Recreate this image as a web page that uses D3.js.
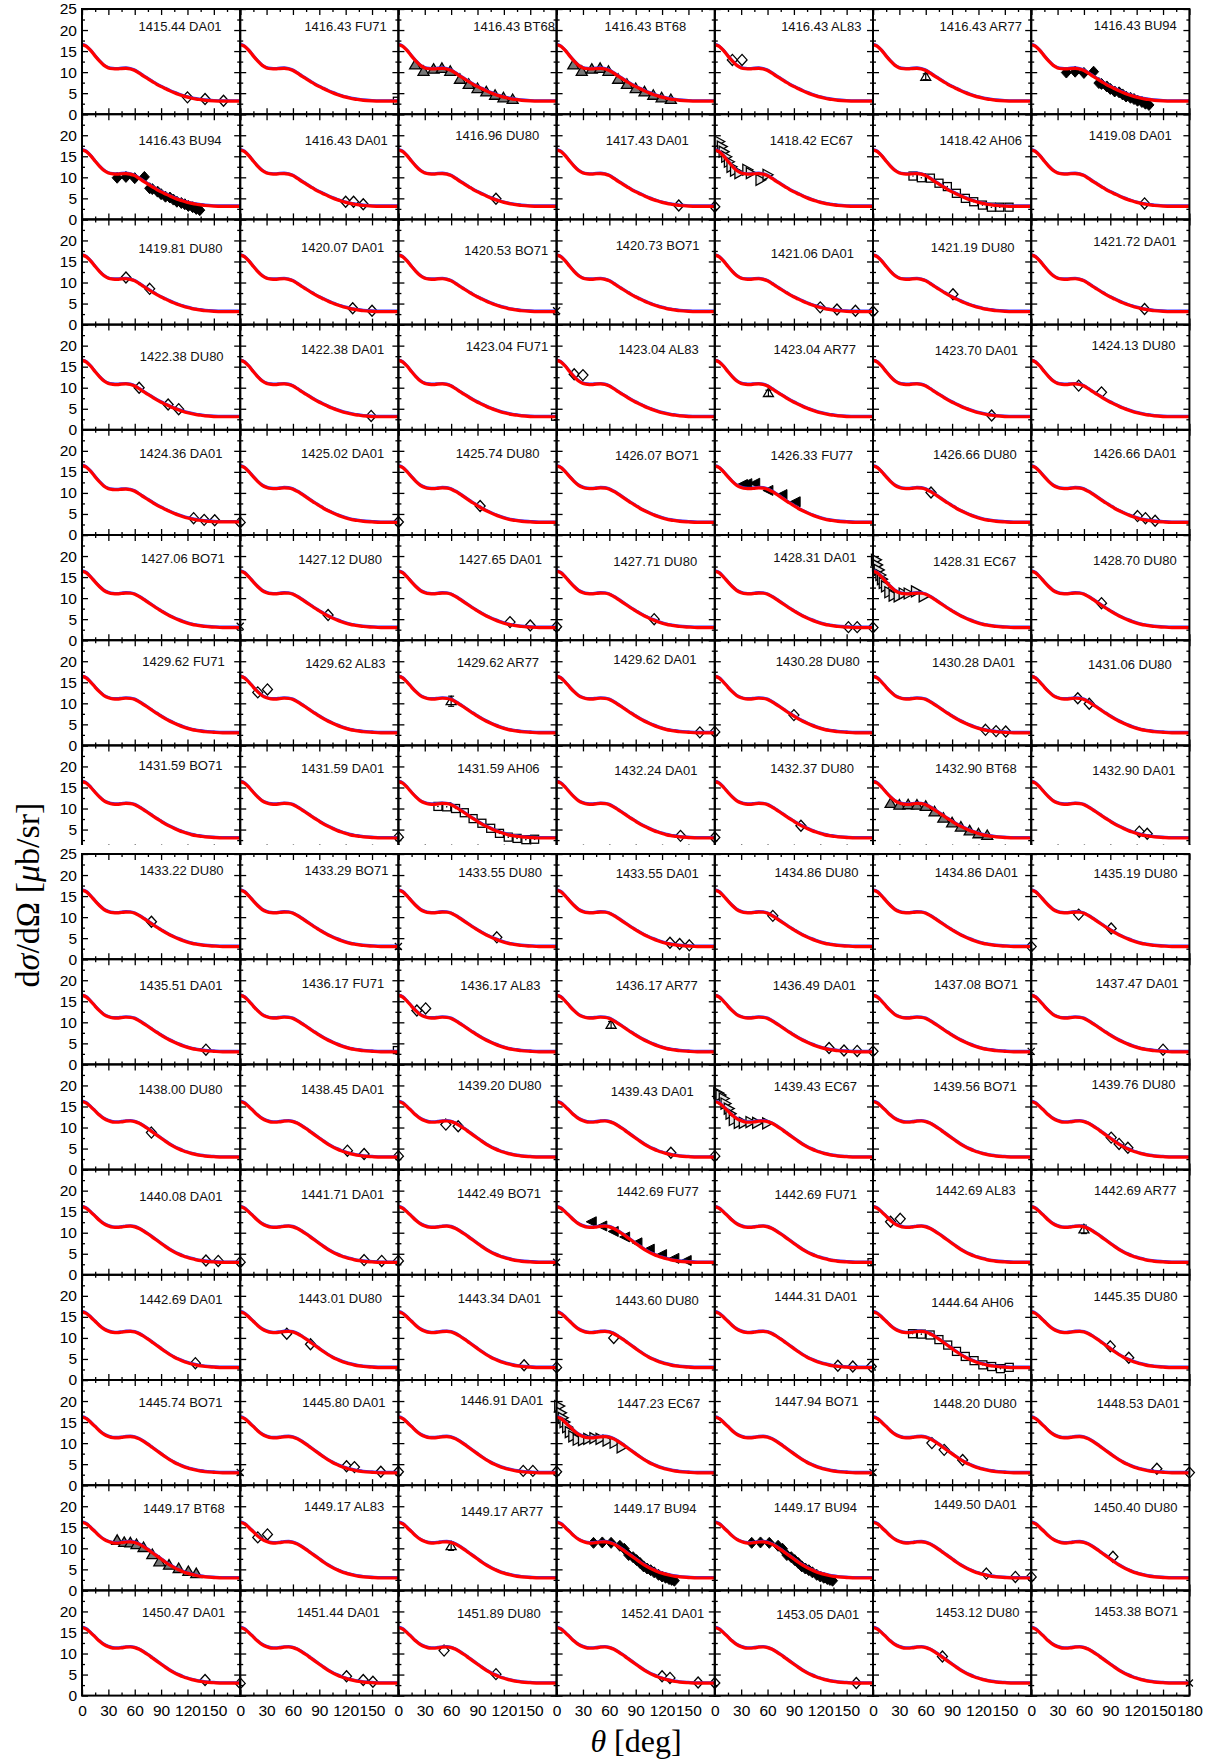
<!DOCTYPE html>
<html>
<head>
<meta charset="utf-8">
<script src="https://cdn.jsdelivr.net/npm/d3@7"></script>
<style>
  body { margin: 0; background: #fff; }
  svg { display: block; }
</style>
</head>
<body>
<svg id="chart" width="1215" height="1762"></svg>
<script>
// ---- model curves dσ/dΩ(θ) for three energy ranges ----
const curveLow = [[0,16.5],[5,16.1],[10,15.1],[15,13.8],[20,12.6],[25,11.6],[30,11.0],[35,10.8],[40,10.75],[45,10.85],[50,10.9],[55,10.75],[60,10.4],[65,9.75],[70,9.05],[75,8.4],[80,7.75],[85,7.1],[90,6.55],[95,6.05],[100,5.55],[105,5.1],[110,4.7],[115,4.35],[120,4.05],[125,3.8],[130,3.6],[135,3.45],[140,3.3],[150,3.15],[160,3.1],[170,3.1],[180,3.1]];
const curveMid = [[0,16.4],[5,16.0],[10,15.0],[15,13.8],[20,12.7],[25,11.8],[30,11.3],[35,11.05],[40,11.0],[45,11.1],[50,11.2],[55,11.15],[60,10.9],[65,10.35],[70,9.7],[75,9.0],[80,8.3],[85,7.6],[90,6.95],[95,6.3],[100,5.75],[105,5.25],[110,4.8],[115,4.4],[120,4.05],[125,3.75],[130,3.55],[135,3.4],[140,3.25],[150,3.1],[160,3.0],[170,3.0],[180,3.0]];
const curveHigh = [[0,16.2],[5,15.8],[10,14.9],[15,13.9],[20,12.9],[25,12.1],[30,11.6],[35,11.3],[40,11.25],[45,11.35],[50,11.5],[55,11.55],[60,11.4],[65,11.0],[70,10.4],[75,9.7],[80,8.95],[85,8.2],[90,7.45],[95,6.7],[100,6.0],[105,5.4],[110,4.9],[115,4.45],[120,4.1],[125,3.8],[130,3.55],[135,3.35],[140,3.2],[150,3.05],[160,2.95],[170,2.95],[180,2.95]];

// ---- measured angular distributions that appear in several panels ----
const bt68A = [[19,11.7],[28.6,10.2],[40,10.7],[49.5,10.9],[59,10.2],[70,8.3],[80,7.1],[90,6.1],[100,5.3],[110,4.5],[119.5,3.9],[130,3.5]];
const bt68B = [[20,11.2],[30,10.8],[40,10.9],[50,10.8],[60,10.5],[70,9.2],[80,7.7],[90,6.6],[100,5.6],[110,4.7],[120,4.0],[130,3.6]];
const bt68C = [[40,11.9],[48,11.4],[55,11.3],[62,10.9],[70,10.2],[80,8.5],[88,6.8],[99,6.0],[110,5.2],[121,4.5],[130,4.0]];
const bu94A = [[40,9.9],[50,10.1],[60,9.8],[71,10.1],[77,7.4],[80,7.2],[86,6.6],[90,6.0],[95,5.4],[100,5.2],[104,4.7],[108,4.2],[113,3.9],[117,3.6],[121,3.2],[126,2.9],[130,2.5],[134,2.2]];
const bu94B = [[42,11.3],[52,11.4],[62,11.3],[72,10.6],[77,9.9],[82,8.4],[87,7.9],[91,7.2],[95,6.5],[99,5.7],[103,5.2],[107,4.8],[111,4.3],[116,3.7],[120,3.3],[124,3.0],[128,2.7],[131,2.5],[134,2.3]];
const ec67A = [[5,18.5],[8,17.3],[10,16.1],[13,14.9],[16,13.7],[19,12.5],[23,11.6],[28,11.0],[37,11.8],[41,11.0],[52,9.4],[60,10.6]];
const ec67B = [[3.4,19.1],[4.6,17.9],[6.5,16.7],[8.4,15.5],[10.2,14.5],[12.2,13.6],[14.8,12.8],[18.6,11.4],[23.5,10.6],[29.2,10.4],[34.9,11.1],[40.6,11.1],[48.9,11.6],[57.7,10.4]];
const ec67C = [[4,18.2],[6.5,17.7],[10.2,16.9],[12.2,15.7],[15.9,14.5],[17.9,13.3],[21.6,11.8],[27.3,11.1],[33,11.1],[40.6,11.3],[48.2,11.1],[59.6,11.0]];
const ec67D = [[3,18.8],[5,17.2],[7,16.0],[9,15.0],[12,13.8],[15,12.6],[19,11.6],[24,10.8],[30,10.7],[36,11.0],[43,11.2],[50,11.0],[58,10.6],[66,10.1],[74,9.0]];
const ah06A = [[45.5,10.3],[55,9.9],[65.3,9.8],[75.1,8.6],[84.6,7.8],[94.9,6.2],[105.1,5.0],[114.6,4.2],[124.5,3.4],[134.7,2.9],[144.2,2.9],[154.8,2.9]];
const ah06B = [[45,10.5],[55,10.4],[65,10.0],[75,9.0],[85,7.6],[95,6.5],[105,5.3],[115,4.1],[125,3.2],[135,2.9],[145,2.6],[155,2.7]];
const ah06C = [[45,11.0],[55,10.9],[65,10.7],[75,9.6],[85,8.3],[95,6.8],[105,5.6],[115,4.6],[125,3.6],[135,3.2],[145,2.7],[155,3.0]];
const fu77A = [[32,12.0],[37,12.2],[46,12.3],[61,10.6],[77,9.6],[92,7.9]];
const fu77B = [[40,12.6],[52,11.6],[65,10.3],[78,9.0],[92,7.6],[106,6.1],[120,4.8],[134,3.9],[148,3.4]];
const al83 = [[20,12.6],[31,13.3]];

// ---- panels: energy [MeV] + data set, read row by row ----
const panelLabels = [
  "1415.44 DA01","1416.43 FU71","1416.43 BT68","1416.43 BT68","1416.43 AL83","1416.43 AR77","1416.43 BU94",
  "1416.43 BU94","1416.43 DA01","1416.96 DU80","1417.43 DA01","1418.42 EC67","1418.42 AH06","1419.08 DA01",
  "1419.81 DU80","1420.07 DA01","1420.53 BO71","1420.73 BO71","1421.06 DA01","1421.19 DU80","1421.72 DA01",
  "1422.38 DU80","1422.38 DA01","1423.04 FU71","1423.04 AL83","1423.04 AR77","1423.70 DA01","1424.13 DU80",
  "1424.36 DA01","1425.02 DA01","1425.74 DU80","1426.07 BO71","1426.33 FU77","1426.66 DU80","1426.66 DA01",
  "1427.06 BO71","1427.12 DU80","1427.65 DA01","1427.71 DU80","1428.31 DA01","1428.31 EC67","1428.70 DU80",
  "1429.62 FU71","1429.62 AL83","1429.62 AR77","1429.62 DA01","1430.28 DU80","1430.28 DA01","1431.06 DU80",
  "1431.59 BO71","1431.59 DA01","1431.59 AH06","1432.24 DA01","1432.37 DU80","1432.90 BT68","1432.90 DA01",
  "1433.22 DU80","1433.29 BO71","1433.55 DU80","1433.55 DA01","1434.86 DU80","1434.86 DA01","1435.19 DU80",
  "1435.51 DA01","1436.17 FU71","1436.17 AL83","1436.17 AR77","1436.49 DA01","1437.08 BO71","1437.47 DA01",
  "1438.00 DU80","1438.45 DA01","1439.20 DU80","1439.43 DA01","1439.43 EC67","1439.56 BO71","1439.76 DU80",
  "1440.08 DA01","1441.71 DA01","1442.49 BO71","1442.69 FU77","1442.69 FU71","1442.69 AL83","1442.69 AR77",
  "1442.69 DA01","1443.01 DU80","1443.34 DA01","1443.60 DU80","1444.31 DA01","1444.64 AH06","1445.35 DU80",
  "1445.74 BO71","1445.80 DA01","1446.91 DA01","1447.23 EC67","1447.94 BO71","1448.20 DU80","1448.53 DA01",
  "1449.17 BT68","1449.17 AL83","1449.17 AR77","1449.17 BU94","1449.17 BU94","1449.50 DA01","1450.40 DU80",
  "1450.47 DA01","1451.44 DA01","1451.89 DU80","1452.41 DA01","1453.05 DA01","1453.12 DU80","1453.38 BO71"
];

// [θ deg, dσ/dΩ μb/sr] (AR77 also carries its error)
const panelPoints = [
  [[120,4.0],[140,3.6],[161,3.2]], [[180,3.2]], bt68A, bt68A, [[20,12.9],[31,12.9]], [[60,8.9,0.7]], bu94A,
  bu94A, [[120,4.2],[129,4.2],[140,3.6]], [[111,4.9]], [[139,3.3],[180,3.0]], ec67A, ah06A, [[129,3.8]],
  [[50,11.2],[77,8.5]], [[128,3.9],[150,3.3]], [[180,3.3]], [], [[120,4.1],[139,3.6],[160,3.3],[180,3.1]], [[91,7.2]], [[129,3.7]],
  [[65,10.0],[98,6.0],[110,4.9]], [[149,3.3]], [[180,3.1]], [[20,13.2],[30,13.0]], [[61,8.7,0.7]], [[135,3.4]], [[54,10.5],[80,8.9]],
  [[127,4.0],[139,3.6],[151,3.5],[180,3.0]], [[180,3.1]], [[93,6.9]], [], fu77A, [[66,10.1]], [[121,4.5],[130,4.0],[141,3.4]],
  [[180,3.3]], [[100,6.0]], [[127,4.3],[150,3.5],[180,3.2]], [[111,5.0]], [[152,3.1],[162,3.1],[180,3.0]], ec67B, [[80,8.8]],
  [], al83, [[60,10.5,1.2]], [[163,3.1],[180,3.2]], [[90,7.2]], [[128,3.7],[140,3.4],[151,3.3]], [[53,11.2],[66,9.9]],
  [], [[180,3.2]], ah06B, [[141,3.5],[180,3.1]], [[98,5.9]], bt68B, [[123,4.5],[132,4.0]],
  [[79,8.9]], [[180,3.0]], [[112,5.2]], [[129,3.9],[140,3.6],[151,3.3]], [[66,10.3]], [[180,3.0]], [[54,10.6],[91,7.3]],
  [[141,3.5]], [[180,3.4]], [[21,12.8],[31,13.3]], [[62,9.4,0.8]], [[130,3.9],[147,3.3],[162,3.2],[180,3.1]], [[180,3.1]], [[150,3.5]],
  [[79,8.8]], [[122,4.5],[141,3.7],[180,3.2]], [[54,10.7],[68,10.3]], [[130,4.0],[180,3.2]], ec67C, [], [[91,7.6],[100,6.1],[110,5.2]],
  [[141,3.4],[155,3.3],[180,3.0]], [[141,3.5],[161,3.3],[180,3.3]], [[180,3.0]], fu77B, [[180,3.0]], al83, [[60,10.8,1.0]],
  [[129,4.0]], [[53,11.0],[80,8.5]], [[143,3.5],[180,3.0]], [[65,10.0]], [[140,3.4],[157,3.2],[178,3.2]], ah06C, [[90,8.0],[111,5.3]],
  [[180,3.0]], [[121,4.5],[130,4.3],[160,3.2],[180,3.2]], [[142,3.4],[153,3.4],[180,3.2]], ec67D, [[180,3.0]], [[67,10.0],[81,8.4],[102,6.0]], [[143,3.9],[180,3.0]],
  bt68C, al83, [[60,10.5,1.0]], bu94B, bu94B, [[129,4.0],[162,3.2],[180,3.2]], [[93,8.0]],
  [[140,3.7],[180,2.9]], [[121,4.6],[140,3.7],[151,3.3]], [[52,10.7],[111,5.1]], [[120,4.6],[129,4.2],[161,3.1],[180,3.0]], [[161,3.0]], [[79,9.3]], [[180,3.0]]
];

// title placement inside each panel: [gap to right frame, centre below top frame] in px
const titleNudge = [
  [18.6,17.7],[11.6,17.7],[1.7,17.7],[28.6,17.7],[11.6,17.7],[9.3,17.7],[12.6,16],
  [18.6,26.5],[10.6,26.5],[17.4,20.8],[26,26.5],[20,26],[9.3,26.5],[17.6,20.8],
  [17.8,29],[14.2,27.9],[8.4,30.6],[15.3,25.6],[19,34],[16.6,28],[13,22.3],
  [16.6,31.7],[14.2,25],[8.4,22],[16,24.7],[17,25],[13.3,26],[14,20.5],
  [17.8,24],[14.2,24],[17,24],[16,25.2],[20,25.2],[14.4,25],[13,24],
  [15.5,23.6],[16.4,24.7],[14.6,24.7],[17.6,26.7],[16.6,22.3],[15,26.7],[12.6,25],
  [15.5,20.7],[13,23],[17.5,21.8],[18.4,19.6],[13.3,21.5],[16,22.5],[17.6,23.8],
  [17.8,20],[14.2,23.4],[17,23.4],[17.3,24.5],[19,23.4],[14.4,23.4],[14,24.5],
  [16.6,16],[10,16],[14.6,18],[16,19],[14.6,18],[13.3,18],[12,19],
  [17.8,26.5],[14.2,24],[16,26.5],[17,26.5],[17,26.5],[13.3,25.4],[10.8,24],
  [17.8,24.5],[14.2,24.5],[15,20.7],[21,27.4],[16,22.4],[14.4,22.2],[14,20],
  [17.8,27.2],[14.2,25],[15.7,24],[16,21.6],[16,25],[15.5,20.5],[13,20.5],
  [17.8,24.3],[16.4,23.2],[15.7,23.2],[16,25.4],[15.7,22],[17.5,27.6],[12,22],
  [17.8,22.5],[13,22.5],[13.3,20.2],[14.6,23.6],[14.6,21.4],[14.4,23.6],[9.7,23.6],
  [15.5,22.9],[14.2,20.7],[13.4,26.1],[18.3,22.8],[16,21.8],[14.4,19.6],[12,21.8],
  [15,21.6],[18.6,21.6],[15.8,23.3],[10.6,22.6],[13.7,24.3],[11.8,22.3],[11.4,20.6]
];

const xMajorTicks = [0,30,60,90,120,150,180];
const xMinorTicks = [15,45,75,105,135,165];
const yMajorTicks = [0,5,10,15,20,25];
const yMinorTicks = [2.5,7.5,12.5,17.5,22.5];

// ---- layout ----
const W = 1215, H = 1762;
const nCols = 7, rowsPerBlock = 8, nRows = 16;
const left0 = 82, colW = 158.2, rowH = 105.2;
const blockTop = [9, 854];
const sansFont = "'Liberation Sans', Arial, Helvetica, sans-serif";
const serifFont = "'Liberation Serif', 'DejaVu Serif', 'Times New Roman', serif";

const svg = d3.select("#chart");
svg.append("rect").attr("width", W).attr("height", H).attr("fill", "#fff");

// the upper half of the grid is cut just above the bottom of its last row
svg.append("defs").append("clipPath").attr("id", "upperHalf")
  .append("rect").attr("x", 0).attr("y", 0).attr("width", W).attr("height", 845);

const blocks = [
  svg.append("g").attr("clip-path", "url(#upperHalf)"),
  svg.append("g")
];

const x = d3.scaleLinear().domain([0, 180]).range([0, colW]);
const y = d3.scaleLinear().domain([0, 25]).range([rowH, 0]);

const line = d3.line().x(d => x(d[0])).y(d => y(d[1])).curve(d3.curveMonotoneX);

function styleAxis(sel, fontSize) {
  sel.select(".domain").remove();
  sel.selectAll(".tick line").attr("stroke", "#000").attr("stroke-width", 1.3);
  sel.selectAll(".tick text")
    .style("font-family", sansFont).style("font-size", fontSize + "px").attr("fill", "#000");
}

function drawMarker(g, code, cx, cy, d) {
  const s = 1.3;
  switch (code) {
    case "DA01": case "DU80": case "AL83":
      g.append("path").attr("d", `M${cx},${cy-5.5}L${cx+5},${cy}L${cx},${cy+5.5}L${cx-5},${cy}Z`)
        .attr("fill", "#fff").attr("stroke", "#000").attr("stroke-width", s);
      break;
    case "BU94":
      g.append("path").attr("d", `M${cx},${cy-5.5}L${cx+5},${cy}L${cx},${cy+5.5}L${cx-5},${cy}Z`)
        .attr("fill", "#000").attr("stroke", "#000").attr("stroke-width", 1);
      break;
    case "BT68":
      g.append("path").attr("d", `M${cx},${cy-5.5}L${cx+5.5},${cy+4}L${cx-5.5},${cy+4}Z`)
        .attr("fill", "#777").attr("stroke", "#000").attr("stroke-width", s);
      break;
    case "AR77": {
      const e = d[2] || 0;
      const y0 = y(d[1] - e), y1 = y(d[1] + e);
      g.append("line").attr("x1", cx).attr("x2", cx).attr("y1", y0).attr("y2", y1)
        .attr("stroke", "#000").attr("stroke-width", 1.2);
      [y0, y1].forEach(v => g.append("line").attr("x1", cx - 3).attr("x2", cx + 3)
        .attr("y1", v).attr("y2", v).attr("stroke", "#000").attr("stroke-width", 1.2));
      g.append("path").attr("d", `M${cx},${cy-5}L${cx+5},${cy+3.5}L${cx-5},${cy+3.5}Z`)
        .attr("fill", "none").attr("stroke", "#000").attr("stroke-width", s);
      break;
    }
    case "EC67":
      g.append("path").attr("d", `M${cx+5.5},${cy}L${cx-4.5},${cy-5.5}L${cx-4.5},${cy+5.5}Z`)
        .attr("fill", "#e4e4e4").attr("stroke", "#000").attr("stroke-width", s);
      break;
    case "AH06":
      g.append("rect").attr("x", cx - 4).attr("y", cy - 4).attr("width", 8).attr("height", 8)
        .attr("fill", "#fff").attr("stroke", "#000").attr("stroke-width", s);
      g.append("circle").attr("cx", cx).attr("cy", cy).attr("r", 0.8).attr("fill", "#000");
      break;
    case "FU77":
      g.append("path").attr("d", `M${cx-5.5},${cy}L${cx+4.5},${cy-5}L${cx+4.5},${cy+5}Z`)
        .attr("fill", "#000").attr("stroke", "#000").attr("stroke-width", 1);
      break;
    case "FU71":
      g.append("rect").attr("x", cx - 5).attr("y", cy - 3.5).attr("width", 5).attr("height", 7)
        .attr("fill", "none").attr("stroke", "#000").attr("stroke-width", s);
      break;
    case "BO71":
      g.append("path").attr("d", `M${cx-3.5},${cy-3.5}L${cx+3.5},${cy+3.5}M${cx-3.5},${cy+3.5}L${cx+3.5},${cy-3.5}`)
        .attr("stroke", "#000").attr("stroke-width", s).attr("fill", "none");
      break;
  }
}

panelLabels.forEach((label, i) => {
  const r = Math.floor(i / nCols), c = i % nCols;
  const b = r < rowsPerBlock ? 0 : 1;
  const px = left0 + c * colW;
  const py = blockTop[b] + (r % rowsPerBlock) * rowH;
  const g = blocks[b].append("g").attr("transform", `translate(${px},${py})`);
  const [energyText, code] = label.split(" ");
  const energy = +energyText;
  const isBottom = r === nRows - 1;
  const isFirstOfBlock = r % rowsPerBlock === 0;
  const isCutRow = r === rowsPerBlock - 1;   // last row of the upper half, its baseline is cut away

  // ticks on all four sides, pointing inwards
  g.append("g").attr("transform", `translate(0,${rowH})`)
    .call(d3.axisBottom(x).tickValues(xMajorTicks).tickSize(-6).tickSizeOuter(0).tickPadding(9)
      .tickFormat(d => (isBottom && (d < 180 || c === nCols - 1)) ? d : ""))
    .call(s => styleAxis(s, 15.5));
  g.append("g").attr("transform", `translate(0,${rowH})`)
    .call(d3.axisBottom(x).tickValues(xMinorTicks).tickSize(-3).tickSizeOuter(0).tickFormat(""))
    .call(s => styleAxis(s, 15.5));
  g.append("g")
    .call(d3.axisTop(x).tickValues(xMajorTicks).tickSize(-6).tickSizeOuter(0).tickFormat(""))
    .call(s => styleAxis(s, 15.5));
  g.append("g")
    .call(d3.axisTop(x).tickValues(xMinorTicks).tickSize(-3).tickSizeOuter(0).tickFormat(""))
    .call(s => styleAxis(s, 15.5));
  g.append("g")
    .call(d3.axisLeft(y).tickValues(yMajorTicks).tickSize(-6).tickSizeOuter(0).tickPadding(5)
      .tickFormat(d => (c === 0 && (d < 25 || isFirstOfBlock) && !(isCutRow && d === 0)) ? d : ""))
    .call(s => styleAxis(s, 15.5));
  g.append("g")
    .call(d3.axisLeft(y).tickValues(yMinorTicks).tickSize(-3).tickSizeOuter(0).tickFormat(""))
    .call(s => styleAxis(s, 15.5));
  g.append("g").attr("transform", `translate(${colW},0)`)
    .call(d3.axisRight(y).tickValues(yMajorTicks).tickSize(-6).tickSizeOuter(0).tickFormat(""))
    .call(s => styleAxis(s, 15.5));
  g.append("g").attr("transform", `translate(${colW},0)`)
    .call(d3.axisRight(y).tickValues(yMinorTicks).tickSize(-3).tickSizeOuter(0).tickFormat(""))
    .call(s => styleAxis(s, 15.5));

  // data points
  const pts = g.append("g");
  panelPoints[i].forEach(d => drawMarker(pts, code, x(d[0]), y(d[1]), d));

  // model curves
  const curve = energy < 1424.5 ? curveLow : (energy < 1438 ? curveMid : curveHigh);
  g.append("path").datum(curve).attr("d", line)
    .attr("transform", "translate(0,-0.8)")
    .attr("fill", "none").attr("stroke", "#3b3bff").attr("stroke-width", 2.4);
  g.append("path").datum(curve).attr("d", line)
    .attr("fill", "none").attr("stroke", "#ff0000").attr("stroke-width", 3.2)
    .attr("stroke-linejoin", "round");

  // frame
  g.append("rect").attr("width", colW).attr("height", rowH)
    .attr("fill", "none").attr("stroke", "#000").attr("stroke-width", 2);

  // panel title
  const [gap, mid] = titleNudge[i];
  g.append("text").attr("x", colW - gap).attr("y", mid).attr("dy", "0.36em")
    .attr("text-anchor", "end")
    .style("font-family", sansFont).style("font-size", "13px").attr("fill", "#111")
    .text(label);
});

// axis titles
const yTitle = svg.append("text")
  .attr("transform", "translate(39,895) rotate(-90)")
  .attr("text-anchor", "middle")
  .style("font-family", serifFont).style("font-size", "34px").attr("fill", "#000");
yTitle.append("tspan").text("d");
yTitle.append("tspan").attr("font-style", "italic").text("σ");
yTitle.append("tspan").text("/d");
yTitle.append("tspan").text("Ω");
yTitle.append("tspan").text(" [");
yTitle.append("tspan").attr("font-style", "italic").text("μ");
yTitle.append("tspan").text("b/sr]");

const xTitle = svg.append("text")
  .attr("x", 636).attr("y", 1752)
  .attr("text-anchor", "middle")
  .style("font-family", serifFont).style("font-size", "32px").attr("fill", "#000");
xTitle.append("tspan").attr("font-style", "italic").text("θ");
xTitle.append("tspan").text(" [deg]");
</script>
</body>
</html>
